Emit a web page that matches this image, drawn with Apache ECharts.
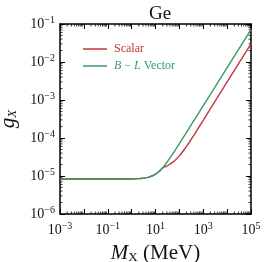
<!DOCTYPE html>
<html><head><meta charset="utf-8">
<script src="https://cdn.jsdelivr.net/npm/echarts@6/dist/echarts.min.js"></script>
<style>html,body{margin:0;padding:0;background:#fff}#c{width:266px;height:262px}</style>
</head><body><div id="c"></div>
<script>
const massMeV = [1e-3, 1e-2, 0.1, 1, 2, 3.16, 5, 7.1, 10, 14.1, 20, 28.2, 39.8, 63.1, 100, 158, 251, 398, 631, 1000, 1585, 3981, 1e4, 31623, 1e5];
const vectorG = [8.32e-6, 8.32e-6, 8.32e-6, 8.36e-6, 8.51e-6, 8.81e-6, 9.23e-6, 1.0e-5, 1.12e-5, 1.32e-5, 1.64e-5, 2.16e-5, 2.94e-5, 4.54e-5, 7.13e-5, 1.12e-4, 1.78e-4, 2.82e-4, 4.47e-4, 7.08e-4, 1.12e-3, 2.82e-3, 7.08e-3, 2.24e-2, 7.15e-2];
const scalarG = [8.32e-6, 8.32e-6, 8.32e-6, 8.36e-6, 8.51e-6, 8.81e-6, 9.23e-6, 1.0e-5, 1.12e-5, 1.32e-5, 1.62e-5, 1.80e-5, 2.04e-5, 2.51e-5, 3.39e-5, 4.90e-5, 7.41e-5, 1.16e-4, 1.84e-4, 2.92e-4, 4.68e-4, 1.19e-3, 2.99e-3, 9.44e-3, 3.02e-2];
const xTickLabels = [1e-3, 1e-1, 10, 1e3, 1e5];
const xMinorTicks = [];
const yMinorTicks = [];
[1e-3,1e-2,1e-1,1,10,100,1e3,1e4].forEach(d=>{for(let k=2;k<=9;k++) xMinorTicks.push(d*k);});
[1e-6,1e-5,1e-4,1e-3,1e-2].forEach(d=>{for(let k=2;k<=9;k++) yMinorTicks.push(d*k);});
const seriesNames = ['Scalar', 'B − L Vector'];
const colors = ['#c4343a', '#3a9a62'];

const FONT = 'Liberation Serif';
function powText(v){
  const e = Math.round(Math.log10(v));
  return '{b|10}{s|' + (e<0 ? '−' + (-e) : e) + '}';
}
function xLabel(v){
  const e = Math.round(Math.log10(v));
  return xTickLabels.some(t => Math.round(Math.log10(t)) === e) ? powText(v) : '';
}
const labRich = {
  b:{fontFamily:FONT,fontSize:14,color:'#111'},
  s:{fontFamily:FONT,fontSize:10,color:'#111',verticalAlign:'top',padding:[0,0,8,0]}
};
const axLine = {show:true,lineStyle:{color:'#000',width:1.5}};
const tick = {show:true,inside:true,length:5,lineStyle:{color:'#000',width:1}};

const chart = echarts.init(document.getElementById('c'), null, {renderer:'canvas'});
chart.setOption({
  animation:false,
  title:{text:'Ge',left:155,textAlign:'center',top:0,textStyle:{fontFamily:FONT,fontSize:19,fontWeight:'normal',color:'#111'}},
  grid:{left:60,right:15,top:24,bottom:48,containLabel:false,outerBoundsMode:'none'},
  legend:{
    left:78, top:38, orient:'vertical', itemGap:5, itemWidth:24, itemHeight:1.5, icon:'rect',
    data:[{name:seriesNames[0],textStyle:{color:colors[0]}},{name:seriesNames[1],textStyle:{color:colors[1]}}],
    formatter:function(n){ return n===seriesNames[1] ? '{i|B} − {i|L} Vector' : n; },
    textStyle:{fontFamily:FONT,fontSize:12,padding:[0,0,0,2],
      rich:{i:{fontFamily:FONT,fontStyle:'italic',fontSize:12,color:colors[1]}}}
  },
  xAxis:[
    {type:'log',logBase:10,min:1e-3,max:1e5,splitNumber:8,position:'bottom',
     axisLine:axLine,axisTick:tick,splitLine:{show:false},
     axisLabel:{margin:7,formatter:xLabel,rich:labRich,showMinLabel:true,showMaxLabel:true,hideOverlap:false},
     name:'{i|M}{sub|X}{n| (MeV)}',nameLocation:'middle',nameGap:29,
     nameTextStyle:{rich:{i:{fontFamily:FONT,fontStyle:'italic',fontSize:21,color:'#111'},
       sub:{fontFamily:FONT,fontSize:13,color:'#111',verticalAlign:'bottom',padding:[8,0,0,0]},
       n:{fontFamily:FONT,fontSize:21,color:'#111'}}}},
    {type:'log',logBase:10,min:1e-3,max:1e5,splitNumber:8,position:'top',
     axisLine:axLine,axisTick:tick,splitLine:{show:false},axisLabel:{show:false}}
  ],
  yAxis:[
    {type:'log',logBase:10,min:1e-6,max:1e-1,splitNumber:5,position:'left',
     axisLine:axLine,axisTick:tick,splitLine:{show:false},
     axisLabel:{margin:5,formatter:powText,rich:labRich,showMinLabel:true,showMaxLabel:true},
     name:'{i|g}{sub|X}',nameLocation:'middle',nameGap:36,nameRotate:90,
     nameTextStyle:{rich:{i:{fontFamily:FONT,fontStyle:'italic',fontSize:21,color:'#111'},
       sub:{fontFamily:FONT,fontStyle:'italic',fontSize:13,color:'#111',verticalAlign:'bottom',padding:[8,0,0,0]}}}},
    {type:'log',logBase:10,min:1e-6,max:1e-1,splitNumber:5,position:'right',
     axisLine:axLine,axisTick:tick,splitLine:{show:false},axisLabel:{show:false}}
  ],
  series:[
    {name:seriesNames[0],type:'line',showSymbol:false,smooth:0.3,color:colors[0],
     lineStyle:{width:1.4,color:colors[0]},data:massMeV.map((m,i)=>[m,scalarG[i]])},
    {name:seriesNames[1],type:'line',showSymbol:false,smooth:0.3,color:colors[1],
     lineStyle:{width:1.4,color:colors[1]},data:massMeV.map((m,i)=>[m,vectorG[i]])},
    {type:'custom',silent:true,clip:false,data:xMinorTicks,
     renderItem:function(p,api){
       const b=api.coord([api.value(0),1e-6]), t=api.coord([api.value(0),1e-1]);
       return {type:'group',children:[
         {type:'line',shape:{x1:b[0],y1:b[1],x2:b[0],y2:b[1]-2.5},style:{stroke:'#000',lineWidth:0.8}},
         {type:'line',shape:{x1:t[0],y1:t[1],x2:t[0],y2:t[1]+2.5},style:{stroke:'#000',lineWidth:0.8}}]};
     }},
    {type:'custom',silent:true,clip:false,data:yMinorTicks.map(v=>[1e-3,v]),
     renderItem:function(p,api){
       const l=api.coord([1e-3,api.value(1)]), r=api.coord([1e5,api.value(1)]);
       return {type:'group',children:[
         {type:'line',shape:{x1:l[0],y1:l[1],x2:l[0]+2.5,y2:l[1]},style:{stroke:'#000',lineWidth:0.8}},
         {type:'line',shape:{x1:r[0],y1:r[1],x2:r[0]-2.5,y2:r[1]},style:{stroke:'#000',lineWidth:0.8}}]};
     }}
  ]
});
</script></body></html>
